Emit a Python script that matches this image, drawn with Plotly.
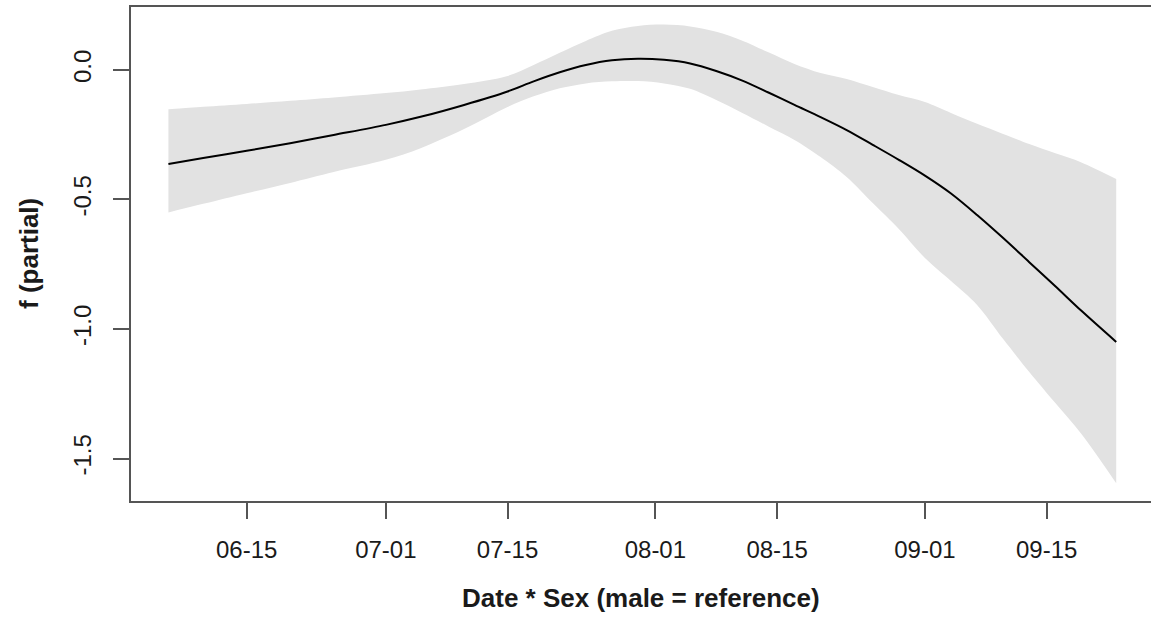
import datetime as dt
import plotly.graph_objects as go

# Days after 15 June at which the smooth was evaluated
day_offsets = [-9, -5, 0, 5, 10, 16, 20, 25, 30, 33, 36, 39, 42, 45, 48, 51, 54,
               57, 60, 63, 66, 69, 72, 75, 78, 81, 84, 87, 90, 93, 96, 100]

# Partial effect (fitted smooth)
fit = [-0.363, -0.340, -0.312, -0.283, -0.251, -0.212, -0.181, -0.135, -0.083,
       -0.044, -0.009, 0.019, 0.037, 0.043, 0.039, 0.025, -0.004, -0.041, -0.087,
       -0.135, -0.182, -0.232, -0.289, -0.347, -0.408, -0.477, -0.560, -0.649,
       -0.742, -0.835, -0.930, -1.050]

# Upper and lower confidence limits
upper = [-0.152, -0.142, -0.131, -0.119, -0.106, -0.089, -0.075, -0.054, -0.023,
         0.019, 0.066, 0.112, 0.151, 0.170, 0.175, 0.168, 0.147, 0.113, 0.068,
         0.023, -0.012, -0.035, -0.066, -0.097, -0.124, -0.166, -0.208, -0.247,
         -0.286, -0.322, -0.357, -0.421]

lower = [-0.550, -0.517, -0.476, -0.436, -0.394, -0.347, -0.302, -0.228, -0.143,
         -0.102, -0.071, -0.052, -0.044, -0.043, -0.052, -0.073, -0.116, -0.166,
         -0.218, -0.270, -0.336, -0.413, -0.514, -0.614, -0.726, -0.815, -0.907,
         -1.039, -1.166, -1.286, -1.405, -1.595]

x_tick_dates = ["2021-06-15", "2021-07-01", "2021-07-15", "2021-08-01",
                "2021-08-15", "2021-09-01", "2021-09-15"]
x_tick_labels = ["06-15", "07-01", "07-15", "08-01", "08-15", "09-01", "09-15"]
y_tick_vals = [-1.5, -1.0, -0.5, 0.0]
y_tick_labels = ["-1.5", "-1.0", "-0.5", "0.0"]

base = dt.datetime(2021, 6, 15)
dates = [base + dt.timedelta(days=d) for d in day_offsets]

FONT = "Liberation Sans, Arial, sans-serif"
AXIS_COL = "#555555"
SMOOTH = 0.9

fig = go.Figure()
fig.add_trace(go.Scatter(x=dates, y=lower, mode="lines",
                         line=dict(width=0, shape="spline", smoothing=SMOOTH),
                         hoverinfo="skip", showlegend=False))
fig.add_trace(go.Scatter(x=dates, y=upper, mode="lines",
                         line=dict(width=0, shape="spline", smoothing=SMOOTH),
                         fill="tonexty", fillcolor="#e2e2e2",
                         hoverinfo="skip", showlegend=False))
fig.add_trace(go.Scatter(x=dates, y=fit, mode="lines",
                         line=dict(color="black", width=2, shape="spline",
                                   smoothing=SMOOTH),
                         showlegend=False))

x_lo = base + dt.timedelta(days=-13.305)
x_hi = base + dt.timedelta(days=104.0)

fig.update_layout(
    width=1151, height=631,
    margin=dict(l=131, r=0, t=7, b=130),
    paper_bgcolor="white", plot_bgcolor="white",
    font=dict(family=FONT, size=24, color="#1a1a1a"),
    showlegend=False,
    xaxis=dict(
        type="date", range=[x_lo, x_hi],
        tickmode="array", tickvals=x_tick_dates, ticktext=x_tick_labels,
        showgrid=False, zeroline=False,
        showline=True, linecolor=AXIS_COL, linewidth=2, mirror=True,
        ticks="outside", ticklen=16, tickwidth=2, tickcolor=AXIS_COL,
        ticklabelstandoff=10,
        tickfont=dict(size=24),
    ),
    yaxis=dict(
        range=[-1.664, 0.243],
        tickmode="array", tickvals=y_tick_vals, ticktext=y_tick_labels,
        showgrid=False, zeroline=False,
        showline=True, linecolor=AXIS_COL, linewidth=2, mirror=False,
        ticks="outside", ticklen=16, tickwidth=2, tickcolor=AXIS_COL,
        tickangle=-90, ticklabelstandoff=12,
        tickfont=dict(size=24),
    ),
)

fig.add_annotation(text="<b>Date * Sex (male = reference)</b>",
                   xref="paper", yref="paper", x=0.5, y=-0.196,
                   yanchor="middle", xanchor="center", showarrow=False,
                   font=dict(size=26, family=FONT, color="#1a1a1a"))
fig.add_annotation(text="<b>f (partial)</b>",
                   xref="paper", yref="paper", x=-0.1, y=0.5,
                   xanchor="center", yanchor="middle", textangle=-90,
                   showarrow=False,
                   font=dict(size=26, family=FONT, color="#1a1a1a"))

fig.write_html("out.html")
